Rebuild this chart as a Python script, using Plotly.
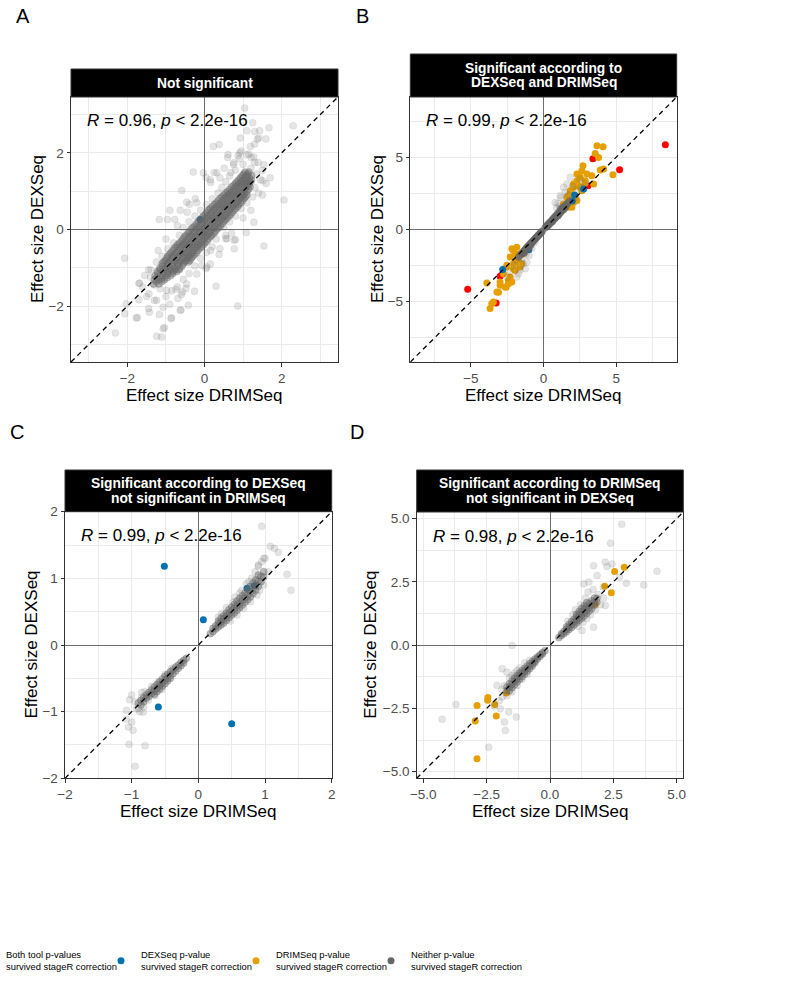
import plotly.graph_objects as go

# ------------------------------------------------------------------ DATA
# Panel A: "Not significant"
a_core_rows = [  # (DEXSeq value, [DRIMSeq values])
    (-1.42, [-1.32, -1.18]),
    (-1.31, [-1.30, -1.17, -1.04]),
    (-1.21, [-1.28, -1.14, -1.00, -0.88]),
    (-1.10, [-1.22, -1.08, -0.95, -0.82, -0.72]),
    (-1.01, [-1.16, -1.02, -0.90, -0.77, -0.64]),
    (-0.89, [-1.10, -0.96, -0.82, -0.69, -0.55]),
    (-0.81, [-1.02, -0.88, -0.74, -0.61, -0.48, -0.38]),
    (-0.70, [-0.95, -0.81, -0.67, -0.54, -0.41, -0.30]),
    (-0.61, [-0.87, -0.73, -0.59, -0.46, -0.33, -0.21]),
    (-0.49, [-0.78, -0.64, -0.50, -0.37, -0.24, -0.12]),
    (-0.40, [-0.70, -0.56, -0.42, -0.29, -0.16, -0.03]),
    (-0.31, [-0.60, -0.47, -0.33, -0.20, -0.07, 0.06]),
    (-0.19, [-0.52, -0.38, -0.24, -0.11, 0.02, 0.15]),
    (-0.10, [-0.43, -0.29, -0.15, -0.02, 0.11, 0.24]),
    (0.01, [-0.35, -0.21, -0.07, 0.06, 0.19, 0.33]),
    (0.09, [-0.25, -0.12, 0.02, 0.15, 0.28, 0.41]),
    (0.21, [-0.16, -0.03, 0.11, 0.24, 0.37, 0.50]),
    (0.30, [-0.07, 0.06, 0.20, 0.33, 0.46, 0.59]),
    (0.39, [0.02, 0.15, 0.29, 0.42, 0.55, 0.68]),
    (0.51, [0.11, 0.24, 0.38, 0.51, 0.64, 0.77]),
    (0.60, [0.20, 0.33, 0.47, 0.60, 0.73, 0.86]),
    (0.69, [0.30, 0.43, 0.56, 0.69, 0.82, 0.94]),
    (0.81, [0.40, 0.52, 0.65, 0.78, 0.91, 1.02]),
    (0.90, [0.50, 0.62, 0.75, 0.88, 1.00, 1.10]),
    (0.99, [0.60, 0.72, 0.85, 0.98, 1.10]),
    (1.11, [0.70, 0.82, 0.95, 1.08, 1.18]),
    (1.20, [0.80, 0.92, 1.04, 1.16]),
    (1.29, [0.88, 1.00, 1.12, 1.22]),
    (1.41, [0.98, 1.10, 1.22]),
    (1.50, [1.05, 1.15]),
    (-1.36, [-1.25, -1.11]),
    (-1.26, [-1.23, -1.10, -0.97]),
    (-1.15, [-1.21, -1.07, -0.94, -0.82]),
    (-1.05, [-1.15, -1.01, -0.88, -0.76, -0.66]),
    (-0.95, [-1.09, -0.96, -0.83, -0.70, -0.58]),
    (-0.85, [-1.06, -0.92, -0.78, -0.65, -0.52, -0.42]),
    (-0.75, [-0.98, -0.84, -0.71, -0.57, -0.45, -0.34]),
    (-0.65, [-0.91, -0.77, -0.63, -0.50, -0.37, -0.26]),
    (-0.55, [-0.82, -0.68, -0.55, -0.41, -0.29, -0.17]),
    (-0.45, [-0.74, -0.60, -0.46, -0.33, -0.20, -0.08]),
    (-0.35, [-0.65, -0.51, -0.38, -0.24, -0.11, 0.01]),
    (-0.25, [-0.56, -0.42, -0.29, -0.15, -0.02, 0.10]),
    (-0.15, [-0.48, -0.34, -0.20, -0.06, 0.07, 0.19]),
    (-0.05, [-0.39, -0.25, -0.11, 0.02, 0.15, 0.28]),
    (0.05, [-0.30, -0.16, -0.02, 0.11, 0.24, 0.37]),
    (0.15, [-0.21, -0.07, 0.06, 0.20, 0.33, 0.46]),
    (0.25, [-0.12, 0.01, 0.15, 0.28, 0.42, 0.54]),
    (0.35, [-0.03, 0.10, 0.24, 0.37, 0.51, 0.63]),
    (0.45, [0.06, 0.19, 0.33, 0.46, 0.60, 0.72]),
    (0.55, [0.15, 0.28, 0.42, 0.55, 0.68, 0.81]),
    (0.65, [0.25, 0.38, 0.51, 0.64, 0.77, 0.89]),
    (0.75, [0.35, 0.47, 0.60, 0.73, 0.86, 0.98]),
    (0.85, [0.45, 0.57, 0.70, 0.83, 0.95, 1.06]),
    (0.95, [0.55, 0.67, 0.80, 0.93, 1.04]),
    (1.05, [0.65, 0.77, 0.90, 1.03, 1.14]),
    (1.15, [0.75, 0.87, 0.99, 1.12]),
    (1.25, [0.84, 0.96, 1.08, 1.19]),
    (1.35, [0.93, 1.05, 1.17]),
    (1.45, [1.02, 1.12]),
]
a_halo = [(1.2, 1.6), (1.0, 1.7), (0.8, 1.55), (1.35, 1.45), (1.45, 1.3), (1.3, 1.1), (1.4, 0.95),
          (1.25, 0.85), (1.1, 0.7), (0.95, 0.55), (0.8, 0.35), (0.65, 0.2), (0.5, 0.05), (0.55, -0.15),
          (0.3, -0.25), (0.2, -0.45), (0.05, -0.6), (-0.1, -0.75), (-0.25, -0.95), (-0.4, -1.15),
          (-0.55, -1.3), (-0.7, -1.5), (-0.85, -1.6), (-1.0, -1.75), (-1.15, -1.55), (-1.3, -1.45),
          (-1.4, -1.25), (-1.45, -1.05), (-1.25, -0.85), (-1.1, -0.7), (-0.95, -0.5), (-0.8, -0.35),
          (-0.65, -0.15), (-0.55, 0.05), (-0.4, 0.2), (-0.25, 0.35), (-0.1, 0.5), (0.05, 0.65),
          (0.2, 0.8), (0.35, 0.95), (0.45, 1.1), (0.55, 1.25), (0.65, 1.4), (0.9, 1.85), (1.1, 1.95),
          (1.3, 1.75), (1.5, 1.55), (1.6, 1.2), (0.75, 1.7), (0.4, 1.35), (-0.2, 0.7), (-0.45, 0.45),
          (-0.7, 0.1), (-1.0, -0.25), (-1.2, -0.55), (-1.55, -1.2), (-1.6, -1.5), (-1.3, -1.85),
          (-0.9, -1.95), (-0.6, -1.7), (0.15, -0.9), (0.4, -0.5), (0.7, -0.1), (1.0, 0.3), (1.2, 0.5),
          (1.5, 0.9), (1.7, 1.35), (1.1, 1.25), (0.95, 1.35), (-1.5, -1.75)]
a_outliers = [(1.04, 3.17), (2.30, 2.71), (1.67, 2.66), (1.30, 2.56), (1.10, 2.58), (0.93, 2.39),
              (1.41, 2.39), (1.19, 2.17), (0.38, 2.22), (0.23, 2.17), (0.61, 1.96), (0.91, 2.00),
              (1.15, 1.97), (1.28, 1.89), (1.54, 1.69), (-0.29, 1.50), (0.76, 1.74), (0.32, 1.48),
              (-0.03, 1.48), (0.15, 1.30), (2.06, 0.77), (-0.59, 1.02), (-0.24, 0.80), (-0.46, 0.71),
              (-0.90, 0.50), (-0.63, 0.50), (-1.17, 0.26), (-0.96, 0.26), (-0.77, 0.26), (1.28, 0.19),
              (1.54, -0.43), (0.80, -0.26), (0.58, -0.24), (0.38, -0.65), (-2.07, -0.75), (0.06, -0.98),
              (-0.07, -0.94), (0.30, -1.48), (0.86, -2.00), (-1.68, -1.40), (-1.44, -1.68), (-1.70, -1.83),
              (-2.03, -1.94), (-2.07, -2.20), (-1.77, -2.31), (-1.43, -2.16), (-1.24, -1.85), (-1.07, -2.03),
              (-0.85, -2.31), (-0.63, -2.11), (-0.42, -1.98), (-1.07, -2.59), (-1.24, -2.79), (-1.11, -2.81),
              (-2.31, -2.70), (-0.98, -1.59), (-0.57, -1.63), (-0.46, -1.42), (-0.20, -1.16), (-1.70, -1.41),
              (-1.74, -2.30), (-1.39, -1.06), (-1.04, -2.56), (-0.26, -1.61), (-0.61, -2.10), (-0.87, -2.32),
              (-0.48, -1.54), (-0.69, -1.80), (-0.74, -1.56), (-1.45, -2.06), (-1.17, -2.22), (1.25, 2.79),
              (1.43, 2.58), (0.95, 2.05), (1.30, 2.23), (1.37, 2.36), (1.59, 2.36), (0.60, 1.88),
              (0.87, 1.93), (1.21, 1.88), (1.39, 1.75), (0.51, 1.60), (0.68, 1.49), (0.25, 1.49),
              (0.04, 1.36), (0.16, 1.23), (1.51, 1.27), (1.08, -0.08), (0.77, -0.50), (0.77, -0.28),
              (0.55, -0.24), (0.04, -1.02), (0.16, -0.55), (-0.39, 0.66)]
a_dexseq_only = [(-0.11, 0.26)]

# Panel B: "Significant according to DEXSeq and DRIMSeq"
b_core = [(0.1, 0.1), (0.2, 0.25), (0.25, 0.2), (0.3, 0.35), (0.35, 0.3), (0.4, 0.45), (0.45, 0.42),
          (0.5, 0.55), (0.55, 0.52), (0.6, 0.68), (0.65, 0.62), (0.7, 0.78), (0.75, 0.74), (0.8, 0.9),
          (0.85, 0.84), (0.9, 1.0), (0.95, 0.95), (1.0, 1.12), (1.05, 1.05), (1.1, 1.22), (1.15, 1.15),
          (1.2, 1.33), (1.25, 1.28), (1.3, 1.45), (1.35, 1.38), (1.4, 1.55), (1.45, 1.5), (1.5, 1.65),
          (1.55, 1.6), (1.6, 1.78), (1.7, 1.85), (1.8, 1.98), (1.2, 1.45), (1.0, 0.95), (1.4, 1.4),
          (0.6, 0.55), (0.8, 0.8), (-0.1, -0.12), (-0.15, -0.2), (-0.2, -0.22), (-0.25, -0.3),
          (-0.3, -0.35), (-0.35, -0.4), (-0.4, -0.45), (-0.45, -0.52), (-0.5, -0.55), (-0.55, -0.63),
          (-0.6, -0.66), (-0.65, -0.74), (-0.7, -0.77), (-0.75, -0.85), (-0.8, -0.88), (-0.85, -0.96),
          (-0.9, -0.98), (-0.95, -1.08), (-1.0, -1.1), (-1.05, -1.18), (-1.1, -1.2), (-1.15, -1.3),
          (-1.2, -1.32), (-1.25, -1.4), (-1.3, -1.45), (-1.35, -1.5), (-1.4, -1.55), (-1.5, -1.68),
          (-1.6, -1.78), (-1.7, -1.9), (-1.1, -1.35), (-0.9, -1.1), (-1.3, -1.6)]
b_halo = [(1.38, 2.92), (1.84, 3.61), (1.61, 3.15), (1.5, 2.6), (1.2, 2.2), (1.0, 1.8), (2.3, 2.7),
          (2.0, 3.0), (1.7, 2.4), (2.6, 2.9), (2.2, 2.2), (0.9, 1.5), (1.15, 2.34), (0.80, 1.87),
          (-1.38, -2.37), (-1.84, -3.29), (-1.15, -2.25), (-1.6, -2.8), (-2.0, -2.5), (-1.0, -1.8),
          (-2.3, -2.9), (-0.8, -1.3), (-1.5, -2.0), (-2.5, -3.3), (-1.2, -1.7), (1.1, 1.6), (2.5, 3.5),
          (-1.9, -2.1), (-0.6, -0.9), (2.8, 3.2), (-1.72, -3.06), (-1.26, -2.71)]
b_both = [(8.39, 5.86), (5.24, 4.14), (3.40, 4.90), (3.06, 3.03), (-5.22, -4.14), (-3.26, -5.08),
          (-2.99, -3.24)]
b_dexseq_only = [(2.76, 2.80), (2.14, 2.39), (1.98, 1.98), (-2.81, -2.77), (-1.01, -1.40)]
b_drimseq_only = [(3.68, 5.79), (4.10, 5.72), (3.56, 5.26), (3.79, 4.99), (3.91, 4.11), (4.78, 3.79),
                  (2.72, 4.41), (2.64, 4.07), (2.30, 3.84), (2.53, 3.61), (3.33, 3.72), (2.87, 3.38),
                  (2.07, 3.15), (2.41, 3.03), (1.84, 2.69), (2.64, 2.69), (3.45, 3.15), (1.61, 2.23),
                  (2.30, 2.00), (1.38, 1.77), (1.72, 1.54), (1.26, 1.31), (2.99, 3.84), (2.30, 3.38),
                  (2.87, 3.22), (2.07, 2.92), (2.53, 2.92), (1.72, 2.34), (2.18, 2.34), (1.95, 1.54),
                  (1.38, 1.54), (2.07, 1.87), (4.14, 4.18),
                  (-2.07, -1.45), (-2.30, -1.91), (-1.84, -2.14), (-2.53, -2.48), (-1.95, -2.83),
                  (-2.30, -3.29), (-2.99, -3.63), (-2.64, -3.98), (-3.10, -4.34), (-3.90, -3.70),
                  (-3.56, -5.13), (-3.68, -5.47), (-1.61, -2.60), (-1.38, -1.68), (-1.15, -1.22),
                  (-2.18, -1.33), (-1.61, -1.68), (-2.07, -2.37), (-2.76, -3.06), (-2.41, -3.75),
                  (-2.52, -2.60), (-2.07, -2.71), (-2.41, -3.52), (-2.18, -3.63), (-2.57, -4.00),
                  (-3.21, -4.32), (-3.45, -5.01), (-1.72, -2.25), (-1.49, -2.37), (-1.84, -1.22),
                  (-1.95, -1.68), (-1.38, -1.56), (-2.99, -3.86)]

# Panel C: "Significant according to DEXSeq, not significant in DRIMSeq"
c_core_rows = [  # (DRIMSeq value, [DEXSeq values])
    (0.18, [0.17]), (0.22, [0.20, 0.25]), (0.26, [0.24, 0.29]), (0.30, [0.27, 0.32, 0.36]),
    (0.34, [0.30, 0.35, 0.40]), (0.38, [0.33, 0.39, 0.44]), (0.42, [0.37, 0.43, 0.48]),
    (0.46, [0.41, 0.47, 0.53]), (0.50, [0.45, 0.51, 0.57]), (0.54, [0.48, 0.55, 0.61]),
    (0.58, [0.52, 0.59, 0.66]), (0.62, [0.56, 0.63, 0.70]), (0.66, [0.60, 0.67, 0.74]),
    (0.70, [0.64, 0.71, 0.78]), (0.74, [0.68, 0.75, 0.83]), (0.78, [0.72, 0.80, 0.88]),
    (0.82, [0.77, 0.85, 0.93]), (0.86, [0.82, 0.90, 0.98]), (0.90, [0.88, 0.96, 1.05]),
    (0.94, [0.95, 1.03]), (0.98, [1.02, 1.10]),
    (-0.18, [-0.20]), (-0.22, [-0.23, -0.27]), (-0.26, [-0.26, -0.31]), (-0.30, [-0.30, -0.35]),
    (-0.34, [-0.33, -0.39]), (-0.38, [-0.37, -0.43]), (-0.42, [-0.40, -0.46, -0.50]),
    (-0.46, [-0.44, -0.50, -0.54]), (-0.50, [-0.47, -0.53, -0.58]), (-0.54, [-0.51, -0.57, -0.62]),
    (-0.58, [-0.55, -0.61, -0.66]), (-0.62, [-0.59, -0.65, -0.70]), (-0.66, [-0.63, -0.69, -0.74]),
    (-0.70, [-0.67, -0.73]), (-0.74, [-0.71, -0.77]), (-0.78, [-0.75, -0.80]),
    (-0.82, [-0.79, -0.85]), (-0.86, [-0.83, -0.90]), (-0.90, [-0.87]),
]
c_halo = [(0.3, 0.42), (0.42, 0.56), (0.55, 0.72), (0.65, 0.82), (0.72, 0.92), (0.8, 1.0), (0.85, 1.1),
          (0.9, 1.18), (0.95, 1.25), (0.88, 0.75), (0.78, 0.65), (0.68, 0.55), (0.58, 0.45),
          (0.48, 0.36), (0.98, 0.9), (1.05, 1.1), (1.0, 1.3), (0.62, 0.78), (0.52, 0.64), (0.92, 0.82),
          (0.76, 0.95), (0.35, 0.47), (-0.4, -0.35), (-0.5, -0.44), (-0.6, -0.55), (-0.7, -0.62),
          (-0.8, -0.7), (-0.85, -0.78), (-0.9, -0.95), (-0.75, -0.83), (-0.65, -0.76), (-0.55, -0.67),
          (-0.95, -0.85), (-0.82, -0.93), (-0.88, -1.0)]
c_outliers = [(0.95, 1.78), (1.08, 1.48), (1.14, 1.45), (1.20, 1.39), (1.39, 0.82), (1.33, 1.06),
              (0.98, 1.30), (0.90, 1.20), (-1.0, -0.75), (-1.03, -0.82), (-0.85, -0.71), (-1.08, -1.11),
              (-1.0, -1.16), (-0.98, -1.28), (-1.05, -1.23), (-1.04, -1.49), (-0.80, -1.51),
              (-0.95, -1.82), (-1.08, -0.98), (-0.93, -0.96), (-0.83, -1.01)]
c_dexseq_only = [(-0.51, 1.18), (0.075, 0.38), (-0.60, -0.93), (0.50, -1.18), (0.73, 0.85), (0.84, 0.89)]

# Panel D: "Significant according to DRIMSeq, not significant in DEXSeq"
d_core_rows = [  # (DRIMSeq value, [DEXSeq values])
    (0.35, [0.30]), (0.45, [0.38, 0.45]), (0.55, [0.45, 0.55]), (0.65, [0.53, 0.63, 0.72]),
    (0.75, [0.62, 0.72, 0.82]), (0.85, [0.70, 0.82, 0.93]), (0.95, [0.80, 0.92, 1.03]),
    (1.05, [0.88, 1.00, 1.12, 1.22]), (1.15, [0.98, 1.10, 1.22, 1.33]), (1.25, [1.06, 1.20, 1.33, 1.45]),
    (1.35, [1.15, 1.30, 1.44, 1.56]), (1.45, [1.25, 1.40, 1.55, 1.68]), (1.55, [1.35, 1.50, 1.65]),
    (1.65, [1.45, 1.60, 1.75]), (1.75, [1.58, 1.72, 1.86]), (1.85, [1.70, 1.85]),
    (-0.2, [-0.22]), (-0.3, [-0.30, -0.35]), (-0.4, [-0.38, -0.45]), (-0.5, [-0.47, -0.55]),
    (-0.6, [-0.55, -0.64, -0.70]), (-0.7, [-0.65, -0.74, -0.82]), (-0.8, [-0.73, -0.83, -0.93]),
    (-0.9, [-0.82, -0.93, -1.03]), (-1.0, [-0.92, -1.03, -1.14]), (-1.1, [-1.00, -1.12, -1.25]),
    (-1.2, [-1.10, -1.22, -1.35]), (-1.3, [-1.20, -1.33, -1.46]), (-1.4, [-1.30, -1.43, -1.57]),
    (-1.5, [-1.42, -1.55, -1.68]), (-1.6, [-1.52, -1.66, -1.80]), (-1.7, [-1.65, -1.80]),
]
d_halo = [(1.0, 1.4), (1.2, 1.6), (1.4, 1.85), (1.5, 2.1), (1.7, 2.2), (1.3, 0.9), (1.6, 1.2), (1.8, 1.4),
          (2.0, 1.6), (1.1, 0.75), (0.9, 1.2), (1.9, 2.0), (2.1, 2.3), (1.45, 1.05), (0.7, 0.95),
          (-0.8, -0.6), (-1.0, -0.7), (-1.2, -0.9), (-1.3, -1.0), (-1.5, -1.2), (-1.6, -1.3), (-1.8, -1.6),
          (-1.9, -1.75), (-1.1, -1.35), (-1.3, -1.6), (-1.5, -1.85), (-1.7, -2.0), (-2.0, -2.2),
          (-0.9, -1.15), (-1.4, -1.1), (-2.2, -2.4)]
d_outliers = [(2.83, 4.78), (2.39, 4.03), (4.22, 2.92), (3.70, 2.38), (3.01, 2.45), (2.74, 2.68),
              (2.45, 3.21), (2.18, 3.28), (2.25, 3.11), (1.72, 3.14), (1.86, 2.75), (1.53, 2.49),
              (1.33, 2.42), (2.12, 1.86), (2.18, 1.57), (1.72, 0.71), (1.26, 0.58), (-1.50, -0.01),
              (-1.89, -0.93), (-1.70, -1.07), (-2.09, -1.59), (-3.71, -2.34), (-4.26, -2.93),
              (-1.80, -3.04), (-1.76, -3.37), (-1.33, -2.84), (-2.42, -4.03), (-1.89, -2.05),
              (-1.96, -2.51), (-1.63, -2.64)]
d_drimseq_only = [(2.93, 3.08), (2.55, 2.91), (2.16, 2.33), (2.42, 2.07), (1.79, 1.62), (-1.72, -1.89),
                  (-2.45, -2.07), (-2.46, -2.18), (-2.18, -2.34), (-2.88, -2.38), (-2.12, -2.80),
                  (-2.95, -3.00), (-2.88, -4.49)]

panel_titles = [["Not significant"],
                ["Significant according to", "DEXSeq and DRIMSeq"],
                ["Significant according to DEXSeq", "not significant in DRIMSeq"],
                ["Significant according to DRIMSeq", "not significant in DEXSeq"]]
panel_letters = ["A", "B", "C", "D"]
cor_labels = ["0.96", "0.99", "0.99", "0.98"]
category_names = ["Both tool p-values<br>survived stageR correction",
                  "DEXSeq p-value<br>survived stageR correction",
                  "DRIMSeq p-value<br>survived stageR correction",
                  "Neither p-value<br>survived stageR correction"]
x_title = "Effect size DRIMSeq"
y_title = "Effect size DEXSeq"


# ------------------------------------------------------------------ HELPERS
def unzip(pairs):
    return [p[0] for p in pairs], [p[1] for p in pairs]


def rows_y(rows):  # rows of (y, [x...])
    xs, ys = [], []
    for yv, xl in rows:
        for xv in xl:
            xs.append(xv)
            ys.append(yv)
    return xs, ys


def rows_x(rows):  # rows of (x, [y...])
    xs, ys = [], []
    for xv, yl in rows:
        for yv in yl:
            xs.append(xv)
            ys.append(yv)
    return xs, ys


W, H = 804, 986
MB = 60                 # bottom margin that hosts the legend
PH = H - MB             # plot-area height in pixels (top margin 0)
FONT = "Liberation Sans, Arial, Helvetica, sans-serif"
COL = {"both": "#FF0000", "dex": "#0072B2", "drim": "#E69F00", "none": "#666666"}


def px_x(p):
    return p / W


def px_y(p):
    return 1 - p / PH


fig = go.Figure()

geo = [
    dict(l=71, r=338, t=97, b=362, rng=3.46, dt=2, mdt=1, fmt="d", strip_t=69, ytx=37.5),
    dict(l=410.3, r=676.7, t=97, b=362, rng=9.17, dt=5, mdt=2.5, fmt="d", strip_t=54, ytx=377.5),
    dict(l=65, r=331.7, t=511.7, b=778.3, rng=2.0, dt=1, mdt=0.5, fmt="d", strip_t=470, ytx=30.5),
    dict(l=416.7, r=683.3, t=512, b=778.3, rng=5.26, dt=2.5, mdt=1.25, fmt=".1f", strip_t=470, ytx=370.5),
]


def add_grey(idx, xs, ys, alpha):
    sfx = "" if idx == 0 else str(idx + 1)
    fig.add_trace(go.Scatter(
        x=xs, y=ys, mode="markers", xaxis="x" + sfx, yaxis="y" + sfx, showlegend=False,
        hoverinfo="skip",
        marker=dict(size=7, color="rgba(102,102,102,%s)" % alpha,
                    line=dict(width=0.6, color="rgba(102,102,102,%s)" % alpha))))


def add_col(idx, pairs, key):
    sfx = "" if idx == 0 else str(idx + 1)
    xs, ys = unzip(pairs)
    fig.add_trace(go.Scatter(
        x=xs, y=ys, mode="markers", xaxis="x" + sfx, yaxis="y" + sfx, showlegend=False,
        marker=dict(size=7, color=COL[key], line=dict(width=0))))


# Panel A
add_col(0, a_dexseq_only, "dex")
add_grey(0, *rows_y(a_core_rows), 0.42)
add_grey(0, *unzip(a_halo), 0.17)
add_grey(0, *unzip(a_outliers), 0.17)
# Panel B
add_col(1, b_both, "both")
add_col(1, b_drimseq_only, "drim")
add_col(1, b_dexseq_only, "dex")
add_grey(1, *unzip(b_core), 0.6)
add_grey(1, *unzip(b_halo), 0.17)
# Panel C
add_col(2, c_dexseq_only, "dex")
add_grey(2, *rows_x(c_core_rows), 0.45)
add_grey(2, *unzip(c_halo), 0.17)
add_grey(2, *unzip(c_outliers), 0.17)
# Panel D
add_col(3, d_drimseq_only, "drim")
add_grey(3, *rows_x(d_core_rows), 0.45)
add_grey(3, *unzip(d_halo), 0.17)
add_grey(3, *unzip(d_outliers), 0.17)

# legend entries
for i, (name, key) in enumerate(zip(category_names, ["both", "dex", "drim", "none"])):
    fig.add_trace(go.Scatter(x=[None], y=[None], mode="markers", name=name, showlegend=True,
                             marker=dict(size=7, color=COL[key]), legendrank=i + 1))
# blank spacer entry so the last legend label is not clipped
fig.add_trace(go.Scatter(x=[None], y=[None], mode="markers", name=" ", showlegend=True,
                         marker=dict(size=7, color="rgba(0,0,0,0)"), legendrank=5, hoverinfo="skip"))

shapes, annotations = [], []
layout_axes = {}
for i, g in enumerate(geo):
    sfx = "" if i == 0 else str(i + 1)
    r = g["rng"]
    common = dict(
        range=[-r, r], tickmode="linear", tick0=0, dtick=g["dt"], tickformat=g["fmt"],
        showgrid=True, gridcolor="#EBEBEB", gridwidth=1.1,
        minor=dict(dtick=g["mdt"], tick0=0, showgrid=True, gridcolor="#EBEBEB", gridwidth=0.55),
        zeroline=True, zerolinecolor="#6E6E6E", zerolinewidth=1.1,
        showline=True, mirror=True, linecolor="#333333", linewidth=1,
        ticks="outside", ticklen=3.5, tickcolor="#333333", tickwidth=1,
        tickfont=dict(family=FONT, size=13.5, color="#4D4D4D"),
        fixedrange=True,
    )
    layout_axes["xaxis" + sfx] = dict(common, domain=[px_x(g["l"]), px_x(g["r"])], anchor="y" + sfx)
    layout_axes["yaxis" + sfx] = dict(common, domain=[px_y(g["b"]), px_y(g["t"])], anchor="x" + sfx)

    shapes.append(dict(type="line", xref="x" + sfx, yref="y" + sfx, x0=-r, y0=-r, x1=r, y1=r,
                       line=dict(color="black", width=1.3, dash="5px,4px"), layer="above"))
    shapes.append(dict(type="rect", xref="paper", yref="paper", x0=px_x(g["l"]), x1=px_x(g["r"]),
                       y0=px_y(g["t"]), y1=px_y(g["strip_t"]), fillcolor="black",
                       line=dict(color="#333333", width=1), layer="above"))
    lines = panel_titles[i]
    cx = (g["l"] + g["r"]) / 2
    if len(lines) == 1:
        centers = [(g["strip_t"] + g["t"]) / 2]
    else:
        mid = (g["strip_t"] + g["t"]) / 2
        centers = [mid - 7.3, mid + 7.3]
    for txt, cy in zip(lines, centers):
        annotations.append(dict(text="<b>%s</b>" % txt, x=px_x(cx), y=px_y(cy), xref="paper", yref="paper",
                                showarrow=False, xanchor="center", yanchor="middle",
                                font=dict(family=FONT, size=13.8, color="white")))
    annotations.append(dict(text="<i>R</i> = %s, <i>p</i> &lt; 2.2e-16" % cor_labels[i],
                            x=px_x(g["l"] + 14), y=px_y(g["t"] + 24), xref="paper", yref="paper",
                            showarrow=False, xanchor="left", yanchor="middle",
                            font=dict(family=FONT, size=17, color="black")))
    annotations.append(dict(text=x_title, x=px_x(cx), y=px_y(g["b"] + 33), xref="paper", yref="paper",
                            showarrow=False, xanchor="center", yanchor="middle",
                            font=dict(family=FONT, size=17, color="black")))
    annotations.append(dict(text=y_title, x=px_x(g["ytx"]), y=px_y((g["t"] + g["b"]) / 2),
                            xref="paper", yref="paper", showarrow=False, textangle=-90,
                            xanchor="center", yanchor="middle",
                            font=dict(family=FONT, size=17, color="black")))

letter_pos = [(23, 16), (362, 16), (16.5, 432), (356.5, 432)]
for letter, (lx, ly) in zip(panel_letters, letter_pos):
    annotations.append(dict(text=letter, x=px_x(lx), y=px_y(ly), xref="paper", yref="paper",
                            showarrow=False, xanchor="center", yanchor="middle",
                            font=dict(family=FONT, size=20, color="black")))

fig.update_layout(
    width=W, height=H, autosize=False,
    margin=dict(l=0, r=0, t=0, b=MB, pad=0, autoexpand=False),
    paper_bgcolor="white", plot_bgcolor="white",
    font=dict(family=FONT, color="black"),
    shapes=shapes, annotations=annotations,
    legend=dict(orientation="h", x=-34 / W, xanchor="left", y=px_y(961), yanchor="middle",
                entrywidth=90, entrywidthmode="pixels", traceorder="normal",
                font=dict(family=FONT, size=9.4, color="black"),
                bgcolor="rgba(0,0,0,0)", borderwidth=0, itemclick=False, itemdoubleclick=False),
    **layout_axes,
)

fig.write_html("out.html")
